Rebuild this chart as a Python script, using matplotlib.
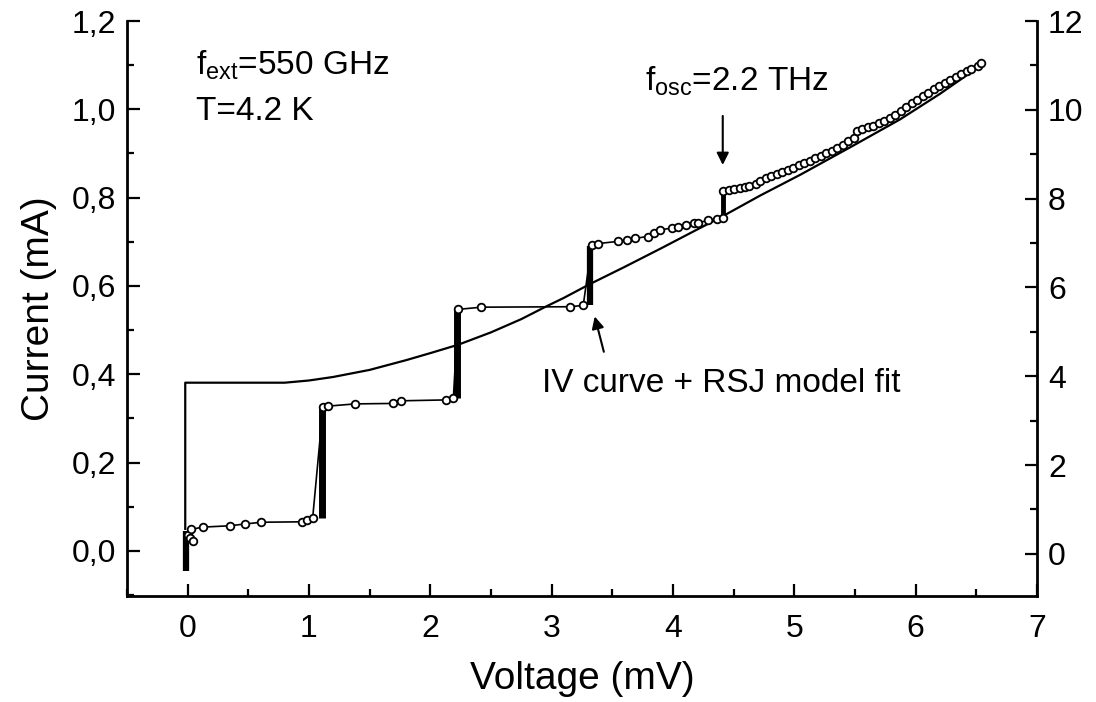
import matplotlib
matplotlib.use("Agg")
import matplotlib.pyplot as plt
from matplotlib.ticker import MultipleLocator

plt.rcParams['font.family'] = ['Liberation Sans', 'DejaVu Sans']
plt.rcParams['mathtext.fontset'] = 'custom'
plt.rcParams['mathtext.rm'] = 'Liberation Sans'

# measured IV curve (open circles)
iv_v = [0.00, 0.02, 0.04, 0.03, 0.126, 0.346, 0.47, 0.607, 0.94, 0.98, 1.03,
        1.115, 1.16, 1.38, 1.69, 1.76, 2.13, 2.19,
        2.23, 2.42, 3.15, 3.26,
        3.33, 3.38, 3.55, 3.62, 3.69, 3.79, 3.84, 3.89, 3.99, 4.04, 4.11, 4.17,
        4.21, 4.29, 4.36, 4.41,
        4.41, 4.46, 4.50, 4.55, 4.59, 4.63, 4.68, 4.72, 4.77, 4.81, 4.86, 4.90,
        4.95, 4.99, 5.04, 5.08, 5.13, 5.17, 5.22, 5.26, 5.31, 5.35, 5.40, 5.44,
        5.49, 5.52, 5.56, 5.61, 5.65, 5.70, 5.74, 5.79, 5.83, 5.88, 5.92, 5.97,
        6.01, 6.06, 6.10, 6.15, 6.19, 6.24, 6.28, 6.33, 6.37, 6.42, 6.46, 6.51,
        6.54]
iv_i = [0.035, 0.030, 0.022, 0.049, 0.054, 0.057, 0.061, 0.065, 0.066, 0.070, 0.074,
        0.325, 0.328, 0.333, 0.334, 0.340, 0.342, 0.346,
        0.547, 0.552, 0.553, 0.556,
        0.693, 0.696, 0.701, 0.704, 0.708, 0.712, 0.719, 0.727, 0.731, 0.733, 0.738, 0.742,
        0.743, 0.749, 0.751, 0.753,
        0.814, 0.818, 0.820, 0.822, 0.824, 0.826, 0.832, 0.838, 0.845, 0.849, 0.854, 0.858,
        0.863, 0.868, 0.873, 0.878, 0.884, 0.889, 0.895, 0.900, 0.906, 0.913, 0.920, 0.928,
        0.936, 0.952, 0.955, 0.959, 0.963, 0.968, 0.974, 0.981, 0.988, 0.996, 1.005, 1.015,
        1.022, 1.030, 1.038, 1.046, 1.053, 1.060, 1.066, 1.073, 1.079, 1.086, 1.092, 1.099,
        1.105]

# Shapiro steps (dense vertical bars)
step_v = [-0.01, 1.11, 2.22, 3.32, 4.41]
step_lo = [-0.045, 0.074, 0.346, 0.556, 0.753]
step_hi = [0.045, 0.330, 0.545, 0.690, 0.810]
step_lw = [4.5, 5.0, 5.0, 4.5, 3.5]

# RSJ model fit
fit_v = [-0.02, -0.02, 0.2, 0.5, 0.8, 1.0, 1.2, 1.5, 1.8, 2.0, 2.23, 2.5, 2.75,
         2.95, 3.1, 3.32, 3.6, 3.9, 4.2, 4.41, 4.72, 5.05, 5.46, 5.87, 6.2, 6.54]
fit_i = [0.05, 0.381, 0.381, 0.381, 0.381, 0.386, 0.394, 0.410, 0.432, 0.448, 0.467,
         0.495, 0.525, 0.553, 0.573, 0.605, 0.643, 0.685, 0.728, 0.758, 0.805, 0.852,
         0.914, 0.977, 1.035, 1.100]

xticks = [0, 1, 2, 3, 4, 5, 6, 7]
yticks = [0.0, 0.2, 0.4, 0.6, 0.8, 1.0, 1.2]
ytick_labels = ['0,0', '0,2', '0,4', '0,6', '0,8', '1,0', '1,2']
y2ticks = [0, 2, 4, 6, 8, 10, 12]

fig = plt.figure(figsize=(10.96, 7.02), dpi=100)
ax = fig.add_axes([127 / 1096, 1 - 596 / 702, 910 / 1096, 575 / 702])

ax.plot(fit_v, fit_i, color='black', lw=1.6, zorder=2)
ax.vlines(step_v, step_lo, step_hi, colors='black', linewidths=step_lw, zorder=3)
ax.plot(iv_v, iv_i, color='black', lw=1.2, marker='o', ms=5.5, mfc='white',
        mec='black', mew=1.3, zorder=4)

ax.set_xlim(-0.5, 7)
ax.set_ylim(-0.102, 1.2)
ax.set_xticks(xticks)
ax.set_yticks(yticks)
ax.set_yticklabels(ytick_labels)
ax.xaxis.set_minor_locator(MultipleLocator(0.5))
ax.yaxis.set_minor_locator(MultipleLocator(0.1))
ax.spines['top'].set_visible(False)
ax.spines['right'].set_visible(False)
for s in ['left', 'bottom']:
    ax.spines[s].set_linewidth(2)
ax.tick_params(which='major', direction='in', length=9, width=1.6, labelsize=23)
ax.tick_params(which='minor', direction='in', length=5, width=1.6)
ax.tick_params(axis='x', which='major', pad=13)
ax.tick_params(axis='y', which='major', pad=8)

ax2 = ax.twinx()
ax2.set_ylim(-0.95, 12.0)
ax2.set_yticks(y2ticks)
ax2.yaxis.set_minor_locator(MultipleLocator(1))
for s in ['top', 'left', 'bottom']:
    ax2.spines[s].set_visible(False)
ax2.spines['right'].set_linewidth(2)
ax2.tick_params(which='major', direction='in', length=9, width=1.6, labelsize=23, pad=8)
ax2.tick_params(which='minor', direction='in', length=5, width=1.6)

ax.set_xlabel('Voltage (mV)', fontsize=28, labelpad=12)
ax.set_ylabel('Current (mA)', fontsize=28, labelpad=10)

ax.text(0.07, 1.08, r'f$_\mathregular{ext}$=550 GHz', fontsize=24)
ax.text(0.07, 0.976, 'T=4.2 K', fontsize=24)
ax.text(3.77, 1.044, r'f$_\mathregular{osc}$=2.2 THz', fontsize=24)
ax.text(2.92, 0.361, 'IV curve + RSJ model fit', fontsize=24)

ax.annotate('', xy=(4.41, 0.874), xytext=(4.41, 0.985),
            arrowprops=dict(arrowstyle='-|>', color='black', lw=1.5,
                            mutation_scale=18, shrinkA=0, shrinkB=0))
ax.annotate('', xy=(3.355, 0.531), xytext=(3.43, 0.451),
            arrowprops=dict(arrowstyle='-|>', color='black', lw=1.5,
                            mutation_scale=18, shrinkA=0, shrinkB=0))

fig.savefig('out.png', dpi=100)
